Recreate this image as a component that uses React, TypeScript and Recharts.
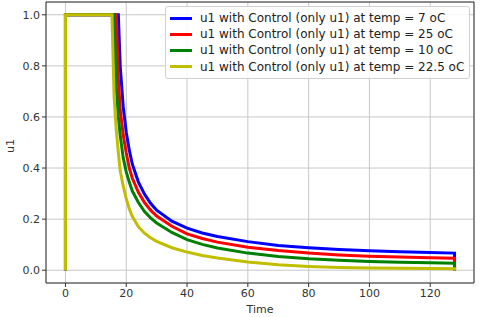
import { LineChart, Line, XAxis, YAxis, CartesianGrid, ReferenceArea } from "recharts";

const time = [0, 0, 15.3, 16, 16.7, 17.4, 18, 19, 20, 21, 22, 24, 26, 28, 30, 35, 40, 45, 50, 60, 70, 80, 90, 100, 110, 120, 128, 128];

const temp7 = [0, 1, 1, 1, 1, 1, 0.8, 0.64, 0.54, 0.47, 0.415, 0.345, 0.298, 0.262, 0.235, 0.192, 0.165, 0.146, 0.132, 0.112, 0.097, 0.088, 0.081, 0.076, 0.072, 0.069, 0.067, 0];
const temp25 = [0, 1, 1, 1, 1, 0.75, 0.63, 0.53, 0.46, 0.4, 0.36, 0.305, 0.265, 0.235, 0.212, 0.172, 0.142, 0.124, 0.11, 0.09, 0.077, 0.067, 0.06, 0.055, 0.052, 0.049, 0.047, 0];
const temp10 = [0, 1, 1, 1, 0.72, 0.6, 0.53, 0.44, 0.385, 0.345, 0.31, 0.265, 0.23, 0.205, 0.185, 0.148, 0.12, 0.101, 0.087, 0.067, 0.054, 0.045, 0.039, 0.034, 0.031, 0.029, 0.027, 0];
const temp225 = [0, 1, 1, 0.68, 0.55, 0.46, 0.39, 0.33, 0.28, 0.24, 0.21, 0.17, 0.145, 0.127, 0.113, 0.088, 0.071, 0.058, 0.048, 0.032, 0.021, 0.015, 0.011, 0.009, 0.008, 0.007, 0.006, 0];

const xTicks = [0, 20, 40, 60, 80, 100, 120];
const yTicks = [0, 0.2, 0.4, 0.6, 0.8, 1.0];

const series = [
  { key: "t7", name: "u1 with Control (only u1) at temp = 7 oC", color: "#0000ff", values: temp7 },
  { key: "t25", name: "u1 with Control (only u1) at temp = 25 oC", color: "#ff0000", values: temp25 },
  { key: "t10", name: "u1 with Control (only u1) at temp = 10 oC", color: "#008000", values: temp10 },
  { key: "t225", name: "u1 with Control (only u1) at temp = 22.5 oC", color: "#bfbf00", values: temp225 },
];

const data = time.map((t, i) => {
  const row: Record<string, number> = { time: t };
  series.forEach((s) => (row[s.key] = s.values[i]));
  return row;
});

const font = "DejaVu Sans, sans-serif";

function LegendBox() {
  return (
    <div
      style={{
        position: "absolute",
        top: 6,
        left: 165,
        border: "1px solid #d0d0d0",
        borderRadius: 3,
        background: "rgba(255,255,255,0.85)",
        padding: "3px 5px 3px 4px",
        fontFamily: font,
        fontSize: 12,
        color: "#222",
      }}
    >
      {series.map((s) => (
        <div key={s.key} style={{ display: "flex", alignItems: "center", height: 16.2, whiteSpace: "nowrap" }}>
          <span style={{ display: "inline-block", width: 22, height: 3, background: s.color, marginRight: 8 }} />
          <span>{s.name}</span>
        </div>
      ))}
    </div>
  );
}

export default function App() {
  return (
    <div style={{ position: "fixed", top: 0, left: 0, width: 480, height: 317, background: "#fff" }}>
      <LineChart width={480} height={317} data={data} margin={{ top: 2, right: 6, bottom: 0, left: 0 }}>
        <CartesianGrid stroke="#c8c8c8" strokeWidth={1} />
        <XAxis
          dataKey="time"
          type="number"
          domain={[-6.4, 134.4]}
          ticks={xTicks}
          allowDataOverflow
          height={34}
          tickSize={4}
          tickLine={{ stroke: "#333" }}
          axisLine={false}
          tick={{ fill: "#333", fontSize: 11, fontFamily: font }}
        />
        <YAxis
          type="number"
          domain={[-0.05, 1.05]}
          ticks={yTicks}
          allowDataOverflow
          width={46}
          tickSize={4}
          tickLine={{ stroke: "#333" }}
          axisLine={false}
          tickFormatter={(v: number) => v.toFixed(1)}
          tick={{ fill: "#333", fontSize: 11, fontFamily: font }}
        />
        <ReferenceArea x1={-6.4} x2={134.4} y1={-0.05} y2={1.05} fill="none" stroke="#333" strokeWidth={1} ifOverflow="visible" />
        {series.map((s) => (
          <Line
            key={s.key}
            dataKey={s.key}
            name={s.name}
            stroke={s.color}
            strokeWidth={3}
            dot={false}
            type="linear"
            isAnimationActive={false}
          />
        ))}
      </LineChart>
      <LegendBox />
      <div
        style={{
          position: "absolute",
          left: 245,
          top: 303,
          width: 30,
          textAlign: "center",
          fontFamily: font,
          fontSize: 11,
          color: "#333",
          lineHeight: "13px",
        }}
      >
        Time
      </div>
      <div
        style={{
          position: "absolute",
          left: 10,
          top: 146,
          transform: "translate(-50%, -50%) rotate(-90deg)",
          fontFamily: font,
          fontSize: 11,
          color: "#333",
          lineHeight: "13px",
        }}
      >
        u1
      </div>
    </div>
  );
}
